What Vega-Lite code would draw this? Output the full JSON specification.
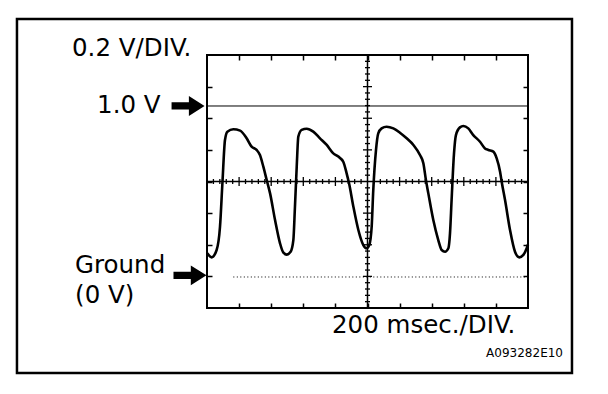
{
  "$schema": "https://vega.github.io/schema/vega-lite/v6.json",
  "width": 321,
  "height": 253,
  "autosize": {"type": "none"},
  "padding": {"left": 207, "top": 55, "right": 80, "bottom": 86},
  "background": "white",
  "config": {
    "view": {"stroke": "black", "strokeWidth": 2},
    "axis": {"grid": false, "domain": false, "labels": false, "tickSize": -5, "tickColor": "black", "tickWidth": 1.5}
  },
  "resolve": {"axis": {"x": "independent", "y": "independent"}},
  "datasets": {
    "wave": [
      {"t": 2, "v": 0.139}, {"t": 29, "v": 0.115}, {"t": 60, "v": 0.158}, {"t": 81, "v": 0.294},
      {"t": 96, "v": 0.548}, {"t": 112, "v": 0.801}, {"t": 127, "v": 0.850}, {"t": 164, "v": 0.864},
      {"t": 206, "v": 0.856}, {"t": 247, "v": 0.811}, {"t": 278, "v": 0.762}, {"t": 309, "v": 0.743},
      {"t": 330, "v": 0.713}, {"t": 351, "v": 0.645}, {"t": 372, "v": 0.567}, {"t": 393, "v": 0.489},
      {"t": 424, "v": 0.333}, {"t": 455, "v": 0.197}, {"t": 476, "v": 0.142}, {"t": 496, "v": 0.131},
      {"t": 521, "v": 0.148}, {"t": 538, "v": 0.216}, {"t": 548, "v": 0.411}, {"t": 559, "v": 0.645},
      {"t": 569, "v": 0.821}, {"t": 590, "v": 0.860}, {"t": 621, "v": 0.867}, {"t": 662, "v": 0.850},
      {"t": 704, "v": 0.811}, {"t": 746, "v": 0.772}, {"t": 787, "v": 0.723}, {"t": 818, "v": 0.704},
      {"t": 849, "v": 0.674}, {"t": 870, "v": 0.606}, {"t": 885, "v": 0.548}, {"t": 912, "v": 0.411},
      {"t": 943, "v": 0.275}, {"t": 974, "v": 0.187}, {"t": 995, "v": 0.168}, {"t": 1011, "v": 0.187},
      {"t": 1026, "v": 0.294}, {"t": 1036, "v": 0.509}, {"t": 1053, "v": 0.743}, {"t": 1067, "v": 0.840},
      {"t": 1088, "v": 0.869}, {"t": 1119, "v": 0.879}, {"t": 1161, "v": 0.869}, {"t": 1202, "v": 0.844},
      {"t": 1244, "v": 0.811}, {"t": 1286, "v": 0.772}, {"t": 1327, "v": 0.713}, {"t": 1348, "v": 0.665},
      {"t": 1364, "v": 0.567}, {"t": 1379, "v": 0.489}, {"t": 1410, "v": 0.333}, {"t": 1441, "v": 0.216},
      {"t": 1462, "v": 0.158}, {"t": 1483, "v": 0.148}, {"t": 1504, "v": 0.168}, {"t": 1514, "v": 0.255},
      {"t": 1524, "v": 0.450}, {"t": 1539, "v": 0.723}, {"t": 1551, "v": 0.830}, {"t": 1576, "v": 0.875},
      {"t": 1597, "v": 0.883}, {"t": 1628, "v": 0.869}, {"t": 1659, "v": 0.830}, {"t": 1701, "v": 0.791},
      {"t": 1732, "v": 0.752}, {"t": 1753, "v": 0.743}, {"t": 1784, "v": 0.733}, {"t": 1805, "v": 0.694},
      {"t": 1826, "v": 0.616}, {"t": 1836, "v": 0.557}, {"t": 1857, "v": 0.450}, {"t": 1888, "v": 0.275},
      {"t": 1919, "v": 0.148}, {"t": 1946, "v": 0.115}, {"t": 1971, "v": 0.129}, {"t": 1992, "v": 0.168},
      {"t": 2000, "v": 0.190}
    ],
    "hticks": [
      {"t": 40, "kind": "minor"}, {"t": 80, "kind": "minor"}, {"t": 120, "kind": "minor"}, {"t": 160, "kind": "minor"}, {"t": 200, "kind": "major"},
      {"t": 240, "kind": "minor"}, {"t": 280, "kind": "minor"}, {"t": 320, "kind": "minor"}, {"t": 360, "kind": "minor"}, {"t": 400, "kind": "major"},
      {"t": 440, "kind": "minor"}, {"t": 480, "kind": "minor"}, {"t": 520, "kind": "minor"}, {"t": 560, "kind": "minor"}, {"t": 600, "kind": "major"},
      {"t": 640, "kind": "minor"}, {"t": 680, "kind": "minor"}, {"t": 720, "kind": "minor"}, {"t": 760, "kind": "minor"}, {"t": 800, "kind": "major"},
      {"t": 840, "kind": "minor"}, {"t": 880, "kind": "minor"}, {"t": 920, "kind": "minor"}, {"t": 960, "kind": "minor"},
      {"t": 1040, "kind": "minor"}, {"t": 1080, "kind": "minor"}, {"t": 1120, "kind": "minor"}, {"t": 1160, "kind": "minor"}, {"t": 1200, "kind": "major"},
      {"t": 1240, "kind": "minor"}, {"t": 1280, "kind": "minor"}, {"t": 1320, "kind": "minor"}, {"t": 1360, "kind": "minor"}, {"t": 1400, "kind": "major"},
      {"t": 1440, "kind": "minor"}, {"t": 1480, "kind": "minor"}, {"t": 1520, "kind": "minor"}, {"t": 1560, "kind": "minor"}, {"t": 1600, "kind": "major"},
      {"t": 1640, "kind": "minor"}, {"t": 1680, "kind": "minor"}, {"t": 1720, "kind": "minor"}, {"t": 1760, "kind": "minor"}, {"t": 1800, "kind": "major"},
      {"t": 1840, "kind": "minor"}, {"t": 1880, "kind": "minor"}, {"t": 1920, "kind": "minor"}, {"t": 1960, "kind": "minor"}
    ],
    "vticks": [
      {"v": -0.1443, "kind": "minor"}, {"v": -0.1073, "kind": "minor"}, {"v": -0.0703, "kind": "minor"}, {"v": -0.0334, "kind": "minor"}, {"v": 0.0036, "kind": "major"},
      {"v": 0.0406, "kind": "minor"}, {"v": 0.0776, "kind": "minor"}, {"v": 0.1146, "kind": "minor"}, {"v": 0.1516, "kind": "minor"}, {"v": 0.1885, "kind": "major"},
      {"v": 0.2255, "kind": "minor"}, {"v": 0.2625, "kind": "minor"}, {"v": 0.2995, "kind": "minor"}, {"v": 0.3365, "kind": "minor"}, {"v": 0.3735, "kind": "major"},
      {"v": 0.4105, "kind": "minor"}, {"v": 0.4475, "kind": "minor"}, {"v": 0.4844, "kind": "minor"}, {"v": 0.5214, "kind": "minor"},
      {"v": 0.5954, "kind": "minor"}, {"v": 0.6324, "kind": "minor"}, {"v": 0.6694, "kind": "minor"}, {"v": 0.7064, "kind": "minor"}, {"v": 0.7434, "kind": "major"},
      {"v": 0.7803, "kind": "minor"}, {"v": 0.8173, "kind": "minor"}, {"v": 0.8543, "kind": "minor"}, {"v": 0.8913, "kind": "minor"}, {"v": 0.9283, "kind": "major"},
      {"v": 0.9653, "kind": "minor"}, {"v": 1.0023, "kind": "minor"}, {"v": 1.0393, "kind": "minor"}, {"v": 1.0762, "kind": "minor"}, {"v": 1.1132, "kind": "major"},
      {"v": 1.1502, "kind": "minor"}, {"v": 1.1872, "kind": "minor"}, {"v": 1.2242, "kind": "minor"}, {"v": 1.2612, "kind": "minor"}
    ],
    "labels": [
      {"label": "0.2 V/DIV.", "t": -841, "v": 1.292},
      {"label": "1.0 V", "t": -685, "v": 0.959},
      {"label": "Ground", "t": -822, "v": 0.023},
      {"label": "(0 V)", "t": -822, "v": -0.152},
      {"label": "200 msec./DIV.", "t": 779, "v": -0.327}
    ],
    "arrows": [
      {"t": -118, "v": 1.0},
      {"t": -106, "v": 0.01}
    ]
  },
  "layer": [
    {
      "data": {"values": [{}]},
      "mark": {"type": "rect", "fillOpacity": 0, "fill": "white", "stroke": "black", "strokeWidth": 2.5},
      "encoding": {
        "x": {"datum": -1184, "type": "quantitative", "scale": {"domain": [0, 2000], "nice": false, "zero": false}, "axis": null},
        "x2": {"datum": 2274},
        "y": {"datum": 1.509, "type": "quantitative", "scale": {"domain": [-0.1813, 1.2982], "nice": false, "zero": false}, "axis": null},
        "y2": {"datum": -0.561}
      }
    },
    {
      "data": {"values": [{}]},
      "mark": {"type": "rule", "color": "black", "strokeWidth": 1},
      "encoding": {
        "y": {"datum": 1.0, "type": "quantitative", "scale": {"domain": [-0.1813, 1.2982], "nice": false, "zero": false}, "axis": null}
      }
    },
    {
      "data": {"values": [{}]},
      "mark": {"type": "rule", "color": "black", "strokeWidth": 1, "strokeDash": [1, 2.5]},
      "encoding": {
        "x": {"datum": 164, "type": "quantitative", "scale": {"domain": [0, 2000], "nice": false, "zero": false}, "axis": null},
        "x2": {"datum": 2000},
        "y": {"datum": 0, "type": "quantitative", "scale": {"domain": [-0.1813, 1.2982], "nice": false, "zero": false}, "axis": null}
      }
    },
    {
      "data": {"values": [{}]},
      "mark": {"type": "rule", "color": "black", "strokeWidth": 1.5},
      "encoding": {
        "y": {"datum": 0.5584, "type": "quantitative", "scale": {"domain": [-0.1813, 1.2982], "nice": false, "zero": false}, "axis": null}
      }
    },
    {
      "data": {"values": [{}]},
      "mark": {"type": "rule", "color": "black", "strokeWidth": 1.5},
      "encoding": {
        "x": {"datum": 1000, "type": "quantitative", "scale": {"domain": [0, 2000], "nice": false, "zero": false}, "axis": null}
      }
    },
    {
      "data": {"name": "hticks"},
      "mark": {"type": "tick", "orient": "vertical", "color": "black", "thickness": 1.3, "opacity": 1},
      "encoding": {
        "x": {"field": "t", "type": "quantitative", "scale": {"domain": [0, 2000], "nice": false, "zero": false}, "axis": null},
        "y": {"datum": 0.5584, "type": "quantitative", "scale": {"domain": [-0.1813, 1.2982], "nice": false, "zero": false}, "axis": null},
        "size": {"field": "kind", "type": "ordinal", "scale": {"domain": ["major", "minor"], "range": [9, 5]}, "legend": null}
      }
    },
    {
      "data": {"name": "vticks"},
      "mark": {"type": "tick", "orient": "horizontal", "color": "black", "thickness": 1.3, "opacity": 1},
      "encoding": {
        "y": {"field": "v", "type": "quantitative", "scale": {"domain": [-0.1813, 1.2982], "nice": false, "zero": false}, "axis": null},
        "x": {"datum": 1000, "type": "quantitative", "scale": {"domain": [0, 2000], "nice": false, "zero": false}, "axis": null},
        "size": {"field": "kind", "type": "ordinal", "scale": {"domain": ["major", "minor"], "range": [9, 5]}, "legend": null}
      }
    },
    {
      "data": {"name": "wave"},
      "mark": {"type": "line", "color": "black", "strokeWidth": 2.6, "interpolate": "monotone"},
      "encoding": {
        "x": {"field": "t", "type": "quantitative", "scale": {"domain": [0, 2000], "nice": false, "zero": false},
              "axis": {"orient": "bottom", "title": null, "values": [200, 400, 600, 800, 1000, 1200, 1400, 1600, 1800]}},
        "y": {"field": "v", "type": "quantitative", "scale": {"domain": [-0.1813, 1.2982], "nice": false, "zero": false},
              "axis": {"orient": "left", "title": null, "values": [1.1132, 0.9283, 0.7434, 0.5584, 0.3735, 0.1885, 0.0036]}}
      }
    },
    {
      "data": {"name": "arrows"},
      "mark": {"type": "point", "shape": "M-1,-0.22 L0.05,-0.22 L0.05,-0.6 L1,0 L0.05,0.6 L0.05,0.22 L-1,0.22 Z", "filled": true, "color": "black", "opacity": 1, "size": 1089},
      "encoding": {
        "x": {"field": "t", "type": "quantitative", "scale": {"domain": [0, 2000], "nice": false, "zero": false}, "axis": null},
        "y": {"field": "v", "type": "quantitative", "scale": {"domain": [-0.1813, 1.2982], "nice": false, "zero": false}, "axis": null}
      }
    },
    {
      "data": {"name": "labels"},
      "mark": {"type": "text", "align": "left", "baseline": "alphabetic", "font": "DejaVu Sans", "fontSize": 24.5, "color": "black"},
      "encoding": {
        "x": {"field": "t", "type": "quantitative", "scale": {"domain": [0, 2000], "nice": false, "zero": false},
              "axis": {"orient": "top", "title": null, "values": [200, 400, 600, 800, 1000, 1200, 1400, 1600, 1800]}},
        "y": {"field": "v", "type": "quantitative", "scale": {"domain": [-0.1813, 1.2982], "nice": false, "zero": false},
              "axis": {"orient": "right", "title": null, "values": [1.1132, 0.9283, 0.7434, 0.5584, 0.3735, 0.1885, 0.0036]}},
        "text": {"field": "label", "type": "nominal"}
      }
    },
    {
      "data": {"values": [{"label": "A093282E10", "t": 2218, "v": -0.468}]},
      "mark": {"type": "text", "align": "right", "baseline": "alphabetic", "font": "DejaVu Sans", "fontSize": 12, "color": "black"},
      "encoding": {
        "x": {"field": "t", "type": "quantitative", "scale": {"domain": [0, 2000], "nice": false, "zero": false}, "axis": null},
        "y": {"field": "v", "type": "quantitative", "scale": {"domain": [-0.1813, 1.2982], "nice": false, "zero": false}, "axis": null},
        "text": {"field": "label", "type": "nominal"}
      }
    }
  ]
}
